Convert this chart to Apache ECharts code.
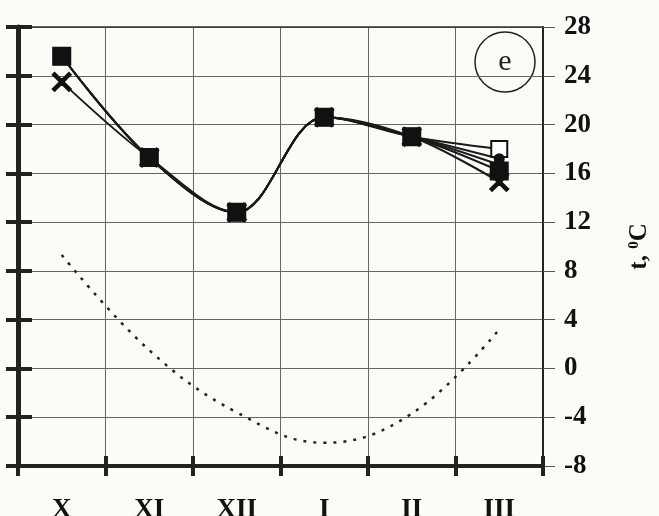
<!DOCTYPE html>
<html>
<head>
<meta charset="utf-8">
<script src="https://cdn.jsdelivr.net/npm/echarts@6/dist/echarts.min.js"></script>
<style>
  html, body { margin: 0; padding: 0; background: #fcfcf6; }
  #chart { width: 659px; height: 516px; }
</style>
</head>
<body>
<div id="chart"></div>
<script>
// months, Oct..Mar
var months = ['X', 'XI', 'XII', 'I', 'II', 'III']
var yTicks = [-8, -4, 0, 4, 8, 12, 16, 20, 24, 28]

// surface temperatures, several runs (they only split at the ends)
var runFilled = [25.6, 17.3, 12.8, 20.6, 19.0, 16.2]
var runCross = [23.5, 17.3, 12.8, 20.6, 19.0, 15.3]
var runOpen = [25.6, 17.3, 12.8, 20.6, 19.0, 18.0]
var runA = [25.6, 17.3, 12.8, 20.6, 19.0, 17.2]
var runB = [25.6, 17.3, 12.8, 20.6, 19.0, 16.7]
// air temperature (dotted)
var air = [9.3, 1.5, -3.6, -6.1, -3.7, 3.2]

var serif = 'Liberation Serif'
var crossPath = 'path://M0,1 L1,0 L5,4 L9,0 L10,1 L6,5 L10,9 L9,10 L5,6 L1,10 L0,9 L4,5 Z'

var chart = echarts.init(document.getElementById('chart'))

function line(data, symbol, size, z) {
  return {
    type: 'line',
    data: data,
    smooth: 0.35,
    symbol: symbol,
    symbolSize: size,
    showSymbol: symbol !== 'none',
    z: z,
    itemStyle: { color: '#111', borderColor: '#111', borderWidth: 2 },
    lineStyle: { color: '#1a1a1a', width: 2 },
    animation: false
  }
}

chart.setOption({
  backgroundColor: '#fcfcf6',
  grid: { left: 18, right: 116, top: 27, bottom: 50, outerBoundsMode: 'none', containLabel: false },
  xAxis: [{
    type: 'category',
    data: months,
    boundaryGap: true,
    axisLine: { onZero: false, lineStyle: { color: '#222', width: 4 } },
    axisTick: { show: true, length: 10, lineStyle: { color: '#222', width: 4 } },
    axisLabel: { fontFamily: serif, fontWeight: 'bold', fontSize: 27, color: '#111', margin: 31 },
    splitLine: { show: true, lineStyle: { color: '#666', width: 1 } }
  }, {
    type: 'category',
    data: months,
    position: 'bottom',
    boundaryGap: true,
    axisLine: { show: false, onZero: false },
    axisTick: { show: true, inside: true, length: 10, lineStyle: { color: '#222', width: 4 } },
    axisLabel: { show: false },
    splitLine: { show: false }
  }, {
    type: 'category',
    data: months,
    position: 'top',
    axisLine: { onZero: false, lineStyle: { color: '#333', width: 1.5 } },
    axisTick: { show: false },
    axisLabel: { show: false }
  }],
  yAxis: [{
    type: 'value',
    position: 'right',
    min: -8,
    max: 28,
    interval: 4,
    axisLine: { show: true, lineStyle: { color: '#222', width: 2 } },
    axisTick: { show: true, length: 12, lineStyle: { color: '#555', width: 1 } },
    axisLabel: {
      fontFamily: serif, fontWeight: 'bold', fontSize: 27, color: '#111', margin: 21,
      formatter: function (v) { return yTicks.indexOf(v) >= 0 ? String(v) : '' }
    },
    splitLine: { show: true, lineStyle: { color: '#666', width: 1 } },
    name: 't, {s|0}C',
    nameLocation: 'middle',
    nameGap: 84,
    nameRotate: 90,
    nameTextStyle: {
      fontFamily: serif, fontWeight: 'bold', fontSize: 25, color: '#111',
      rich: { s: { fontFamily: serif, fontWeight: 'bold', fontSize: 15, verticalAlign: 'top', padding: [0, 0, 10, 0] } }
    }
  }, {
    type: 'value',
    position: 'left',
    min: -8,
    max: 28,
    interval: 4,
    axisLine: { show: true, lineStyle: { color: '#222', width: 5 } },
    axisTick: { show: true, length: 12, lineStyle: { color: '#222', width: 4 } },
    axisLabel: { show: false },
    splitLine: { show: false }
  }, {
    type: 'value',
    position: 'left',
    min: -8,
    max: 28,
    interval: 4,
    axisLine: { show: false },
    axisTick: { show: true, inside: true, length: 14, lineStyle: { color: '#222', width: 4 } },
    axisLabel: { show: false },
    splitLine: { show: false }
  }],
  graphic: [{
    type: 'circle',
    shape: { cx: 505, cy: 62, r: 30 },
    style: { fill: 'none', stroke: '#222', lineWidth: 1.5 }
  }, {
    type: 'text',
    x: 505,
    y: 62,
    style: { text: 'e', fontFamily: serif, fontSize: 30, fill: '#222', align: 'center', verticalAlign: 'middle' }
  }],
  series: [
    line(runOpen, 'emptyRect', 16, 2),
    line(runA, 'circle', 9, 3),
    line(runB, 'circle', 10, 3),
    line(runCross, crossPath, 18, 4),
    line(runFilled, 'rect', 17, 5),
    {
      type: 'line',
      data: air,
      smooth: 0.4,
      symbol: 'none',
      lineStyle: { color: '#222', width: 2.5, type: [3, 7] },
      animation: false
    }
  ]
})
</script>
</body>
</html>
